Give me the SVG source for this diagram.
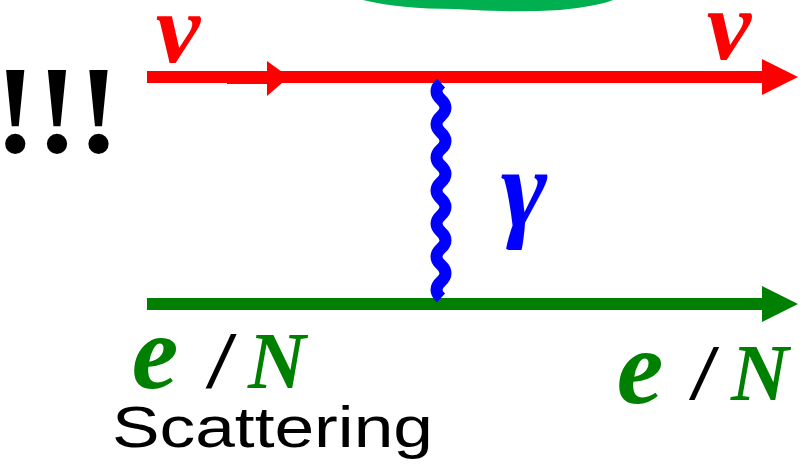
<svg xmlns="http://www.w3.org/2000/svg" width="808" height="469" viewBox="0 0 808 469">
<style>
.red{fill:#FF0000}
.grn{fill:#008000}
.blk{fill:#000}
.serif{font-family:"Liberation Serif","DejaVu Serif",serif}
.sans{font-family:"Liberation Sans","DejaVu Sans",sans-serif}
.bi{font-style:italic;font-weight:bold}
</style>
<defs>
<marker id="ahRed" markerWidth="36" markerHeight="36" refX="0" refY="18" orient="auto" markerUnits="userSpaceOnUse" viewBox="0 0 36 36">
<path d="M0,0 L36,18 L0,36 Z" fill="#FF0000"/>
</marker>
<marker id="ahGrn" markerWidth="36" markerHeight="36" refX="0" refY="18" orient="auto" markerUnits="userSpaceOnUse" viewBox="0 0 36 36">
<path d="M0,0 L36,18 L0,36 Z" fill="#008000"/>
</marker>
</defs>
<g id="arc">
<path d="M363,0 Q400,9 455,9 Q510,13 560,10 Q598,6 613,0 Z" fill="#00B050"/>
</g>
<g id="connectors">
<line x1="147" y1="77" x2="762" y2="77" stroke="#FF0000" stroke-width="12" marker-end="url(#ahRed)"/>
<rect x="227" y="71" width="45" height="13" fill="#FF0000"/>
<path d="M267,61 L289,77 L267,96 Z" fill="#FF0000"/>
<line x1="147" y1="304" x2="762" y2="304" stroke="#008000" stroke-width="12" marker-end="url(#ahGrn)"/>
<path d="M441,83 q-9,8.27 0,16.54 t0,16.54 t0,16.54 t0,16.54 t0,16.54 t0,16.54 t0,16.54 t0,16.54 t0,16.54 t0,16.54 t0,16.54 t0,16.54 t0,16.54" fill="none" stroke="#0000FF" stroke-width="12"/>
</g>
<g id="labels">
<text x="57" y="152" class="serif blk" font-weight="bold" font-size="125" text-anchor="middle">!!!</text>
<text x="178" y="62" class="serif red bi" font-size="100" text-anchor="middle">ν</text>
<text x="729" y="59" class="serif red bi" font-size="100" text-anchor="middle">ν</text>
<text x="524" y="226" class="serif" font-style="italic" font-weight="bold" font-size="112" fill="#0000FF" text-anchor="middle">γ</text>
<text x="155" y="388" class="serif grn bi" font-size="105" text-anchor="middle">e</text>
<text x="220" y="388" class="sans blk" font-style="italic" font-size="74" text-anchor="middle">/</text>
<text x="277" y="388" class="serif grn bi" font-size="80" text-anchor="middle">N</text>
<text x="640" y="403" class="serif grn bi" font-size="105" text-anchor="middle">e</text>
<text x="703" y="400" class="sans blk" font-style="italic" font-size="72" text-anchor="middle">/</text>
<text x="760" y="400" class="serif grn bi" font-size="80" text-anchor="middle">N</text>
<text x="112" y="447" class="sans blk" font-size="58" textLength="321" lengthAdjust="spacingAndGlyphs">Scattering</text>
</g>
</svg>
